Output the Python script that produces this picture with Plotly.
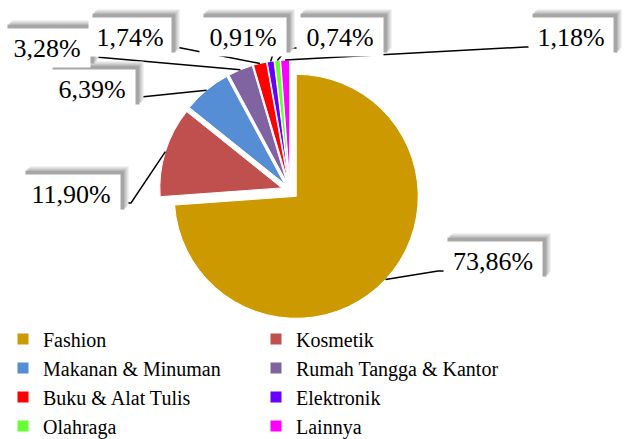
import math
import plotly.graph_objects as go

categories = ["Fashion", "Kosmetik", "Makanan & Minuman", "Rumah Tangga & Kantor",
              "Buku & Alat Tulis", "Elektronik", "Olahraga", "Lainnya"]
shares = [73.86, 11.90, 6.39, 3.28, 1.74, 0.91, 0.74, 1.18]
colors = ["#CC9900", "#C0504D", "#558ED5", "#8064A2",
          "#FF0000", "#6600FF", "#66FF33", "#FF00FF"]

W, H = 632, 439
FONT = "Liberation Serif"

# pie placement (pixels)
cx, cy, r, pull = 290, 190.5, 122, 0.07
half = r * (1 + pull)


def px(x):
    return x / W


def py(y):
    return 1 - y / H


# label boxes (pixel centres) and the leader points next to them
label_pos = [(493, 261), (71, 194), (92, 89), (47, 48),
             (130, 37), (243, 37), (340, 37), (571, 37)]
leader_pts = [[(446, 271), (438, 271)], [(118, 203), (131, 203)],
              [(134, 97), (141, 97)], [(90, 57), (96, 57)],
              [(170, 47), (176, 47)], [(273, 54), (273, 54)],
              [(298, 48), (288, 48)], [(531, 47), (525, 47)]]
box_w = [96, 96, 84, 84, 80, 84, 84, 82]

fig = go.Figure()
fig.add_trace(go.Pie(
    labels=categories,
    values=shares,
    sort=False,
    direction="clockwise",
    rotation=0,
    pull=[pull] * len(shares),
    textinfo="none",
    hoverinfo="label+percent",
    marker=dict(colors=colors, line=dict(color="white", width=1)),
    domain=dict(x=[px(cx - half), px(cx + half)], y=[py(cy + half), py(cy - half)]),
))

total = sum(shares)
shapes = []
cum = 0
for i, v in enumerate(shares):
    mid = (cum + v / 2) / total * 2 * math.pi
    cum += v
    ex = cx + half * math.sin(mid)
    ey = cy - half * math.cos(mid)
    (ax, ay), (bx, by) = leader_pts[i]
    path = f"M {px(ax)} {py(ay)} L {px(bx)} {py(by)} L {px(ex)} {py(ey)}"
    shapes.append(dict(type="path", path=path, xref="paper", yref="paper",
                       line=dict(color="black", width=1.5)))

annotations = []
texts = [f"{v:.2f}".replace(".", ",") + "%" for v in shares]
# soft drop shadow, up and to the right
for shift, col in [(8, "#e4e4e4"), (6, "#c8c8c8"), (4, "#a6a6a6")]:
    for i, t in enumerate(texts):
        x, y = label_pos[i]
        annotations.append(dict(x=px(x), y=py(y), xref="paper", yref="paper",
                                xanchor="center", yanchor="middle",
                                text=t, showarrow=False, xshift=shift, yshift=shift,
                                font=dict(family=FONT, size=26, color=col),
                                bgcolor=col, width=box_w[i], height=36))
for i, t in enumerate(texts):
    x, y = label_pos[i]
    annotations.append(dict(x=px(x), y=py(y), xref="paper", yref="paper",
                            xanchor="center", yanchor="middle",
                            text=t, showarrow=False,
                            font=dict(family=FONT, size=26, color="black"),
                            bgcolor="white", width=box_w[i], height=36))

fig.update_layout(
    width=W,
    height=H,
    margin=dict(l=0, r=0, t=0, b=0, autoexpand=False),
    paper_bgcolor="white",
    plot_bgcolor="white",
    font=dict(family=FONT, size=20, color="black"),
    shapes=shapes,
    annotations=annotations,
    legend=dict(orientation="h", x=3 / W, y=py(319.5), xanchor="left", yanchor="top",
                entrywidth=208, entrywidthmode="pixels", maxheight=300,
                font=dict(family=FONT, size=20, color="black"),
                tracegroupgap=0),
)

# drop the browser's default page margin so the figure sits at 0,0
fig.write_html("out.html", config={"displayModeBar": False},
               post_script="document.body.style.margin='0';")
